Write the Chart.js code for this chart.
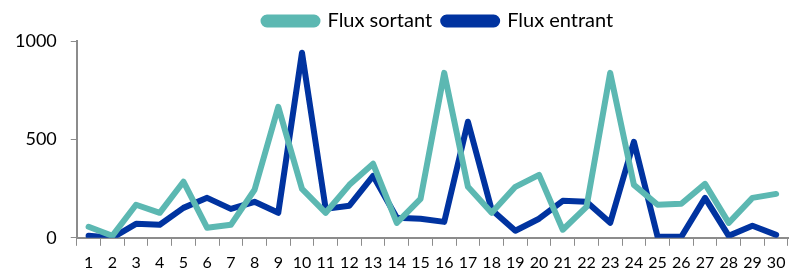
<!DOCTYPE html>
<html>
<head>
<meta charset="utf-8">
<script src="https://cdn.jsdelivr.net/npm/chart.js@4"></script>
<style>
  html, body { margin: 0; padding: 0; background: #ffffff; }
  #wrap { width: 793px; height: 274px; position: relative; }
</style>
</head>
<body>
<div id="wrap"><canvas id="chart"></canvas></div>
<script>
// Days 1..30
const days = ['1','2','3','4','5','6','7','8','9','10','11','12','13','14','15','16','17','18','19','20','21','22','23','24','25','26','27','28','29','30'];

// Values
const fluxSortant = [56, 10, 168, 127, 285, 51, 66, 244, 665, 249, 127, 269, 376, 76, 198, 838, 259, 127, 259, 320, 41, 157, 838, 269, 168, 173, 274, 76, 203, 223];
const fluxEntrant = [10, 0, 71, 66, 152, 203, 147, 183, 127, 940, 147, 163, 315, 102, 97, 81, 590, 142, 36, 97, 188, 183, 76, 488, 5, 5, 203, 10, 61, 15];

const yTicks = [0, 500, 1000];

const tealColor = '#5cb8b2';
const navyColor = '#0033a0';
const axisColor = '#8c8c8c';
const fontFamily = 'Lato, "DejaVu Sans", sans-serif';

// the legend sits a bit right of centre, over the plot area
const legendShift = {
    id: 'legendShift',
    afterLayout(chart) {
        const area = chart.chartArea;
        const dx = (area.left + area.right) / 2 - chart.width / 2 + 8;
        chart.legend.left += dx;
        chart.legend.right += dx;
    }
};

const ctx = document.getElementById('chart').getContext('2d');
new Chart(ctx, {
    type: 'line',
    data: {
        labels: days,
        datasets: [
            {
                label: 'Flux sortant',
                data: fluxSortant,
                borderColor: tealColor,
                backgroundColor: tealColor,
                borderWidth: 6,
                pointRadius: 0,
                tension: 0,
                borderJoinStyle: 'round',
                borderCapStyle: 'round'
            },
            {
                label: 'Flux entrant',
                data: fluxEntrant,
                borderColor: navyColor,
                backgroundColor: navyColor,
                borderWidth: 6,
                pointRadius: 0,
                tension: 0,
                borderJoinStyle: 'round',
                borderCapStyle: 'round'
            }
        ]
    },
    plugins: [legendShift],
    options: {
        responsive: true,
        maintainAspectRatio: false,
        animation: false,
        layout: {
            padding: { left: 1, right: 5, top: 0, bottom: -5 }
        },
        plugins: {
            legend: {
                display: true,
                position: 'top',
                align: 'center',
                labels: {
                    color: '#000000',
                    font: { family: fontFamily, size: 20 },
                    boxWidth: 54,
                    boxHeight: 7,
                    useBorderRadius: true,
                    borderRadius: 3.5,
                    padding: 11
                }
            },
            tooltip: { enabled: false }
        },
        scales: {
            x: {
                offset: true,
                grid: {
                    display: true,
                    drawOnChartArea: false,
                    drawTicks: true,
                    tickLength: 8,
                    color: axisColor,
                    offset: true
                },
                border: { color: axisColor, width: 2 },
                ticks: {
                    color: '#000000',
                    font: { family: fontFamily, size: 16 },
                    maxRotation: 0,
                    autoSkip: false,
                    padding: 7
                }
            },
            y: {
                min: 0,
                max: 1000,
                afterBuildTicks: (axis) => {
                    axis.ticks = yTicks.map(v => ({ value: v }));
                },
                grid: {
                    display: true,
                    drawOnChartArea: false,
                    drawTicks: true,
                    tickLength: 6,
                    color: axisColor
                },
                border: { color: axisColor, width: 2 },
                ticks: {
                    color: '#000000',
                    font: { family: fontFamily, size: 18 },
                    padding: 14,
                    callback: (v) => String(v)
                }
            }
        }
    }
});
</script>
</body>
</html>
